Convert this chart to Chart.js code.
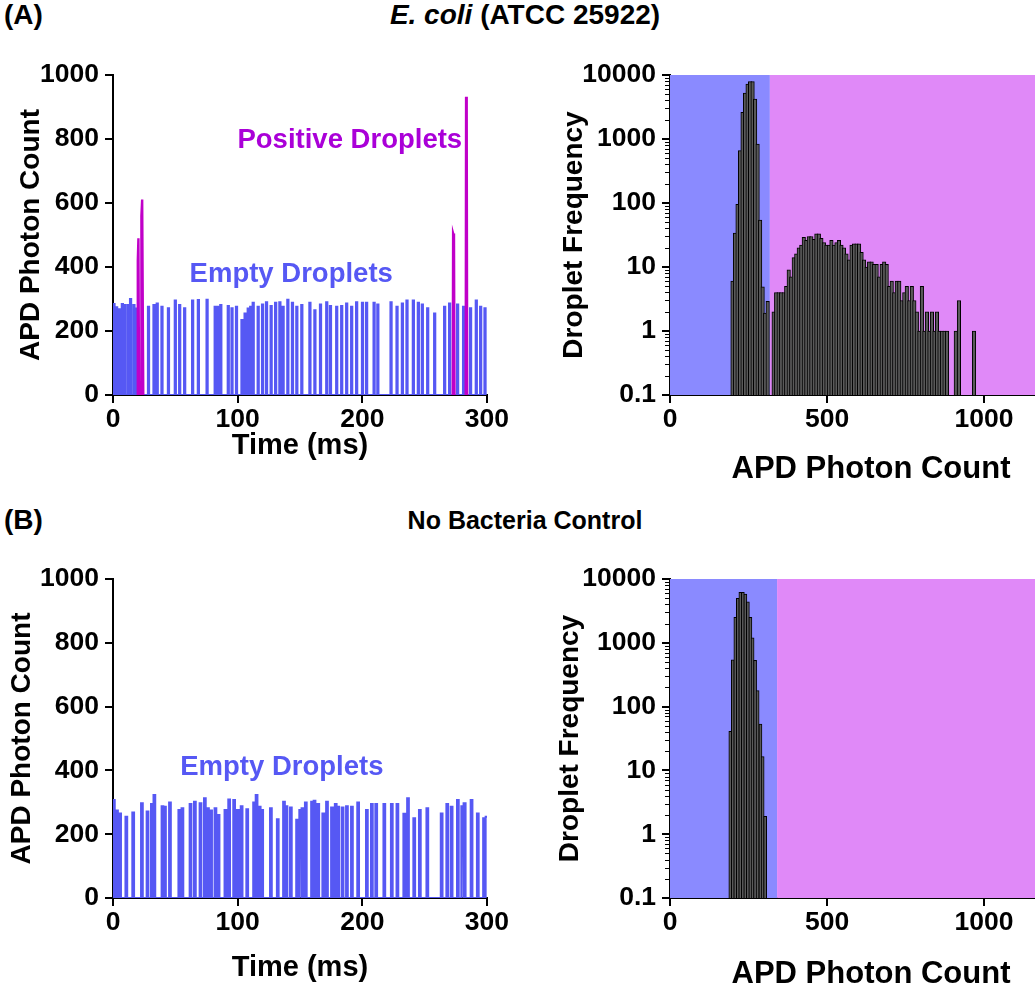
<!DOCTYPE html>
<html>
<head>
<meta charset="utf-8">
<script src="https://cdn.jsdelivr.net/npm/chart.js@4.4.0/dist/chart.umd.min.js"></script>
<style>
  html, body { margin: 0; padding: 0; background: #fff; overflow: hidden; width: 1035px; height: 987px; }
  .box { position: absolute; }
  .lbl { position: absolute; font: bold 28px "Liberation Sans", Arial, sans-serif; color: #000; white-space: nowrap; line-height: 30px; }
</style>
</head>
<body>
<div class="lbl" style="left:4px;top:0px">(A)</div>
<div class="lbl" style="left:525px;top:0px;transform:translateX(-50%)"><i>E. coli</i> (ATCC 25922)</div>
<div class="lbl" style="left:4px;top:505px">(B)</div>
<div class="lbl" style="left:525px;top:505px;transform:translateX(-50%);font-size:25px">No Bacteria Control</div>

<div class="box" style="left:0;top:50px;width:510px;height:414px"><canvas id="traceA"></canvas></div>
<div class="box" style="left:550px;top:50px;width:532px;height:438px"><canvas id="histA"></canvas></div>
<div class="box" style="left:0;top:535px;width:510px;height:451px"><canvas id="traceB"></canvas></div>
<div class="box" style="left:550px;top:535px;width:532px;height:458px"><canvas id="histB"></canvas></div>

<script>
/* Droplet traces (APD photon count vs time) and droplet histograms */

// ---- data -------------------------------------------------------------
const timeTicks = [0, 100, 200, 300];
const countTicks = [0, 200, 400, 600, 800, 1000];
const photonTicks = [0, 500, 1000];
const freqTicks = [0.1, 1, 10, 100, 1000, 10000];

// (A) E. coli - empty droplet pulses: start time (ms) and peak count
const pulseTimeA = [
  0.3, 2.4, 5, 7, 8.8, 11.5, 13.6, 16.3, 18.4, 28,
  32.4, 35, 38.8, 44, 49.5, 53, 57, 63.4, 68, 75,
  81.5, 84, 86, 92, 95, 98.6, 103, 105.5, 108, 110,
  112, 116, 119.5, 122.7, 126.4, 130, 133.4, 136, 139.8, 143.5,
  147, 151, 157.5, 161.5, 166, 171, 174, 179, 183, 187,
  191, 195, 199.7, 203, 209, 212, 222.6, 227.4, 231.7, 235.4,
  240.5, 244.5, 247.7, 252, 257.6, 265.6, 269.6, 276, 280.8, 286.4,
  291, 294.5, 298,
];
const pulsePeakA = [
  284, 274, 268, 284, 281, 281, 300, 281, 270, 276,
  281, 286, 276, 271, 295, 281, 271, 295, 297, 298,
  276, 276, 281, 278, 271, 276, 234, 255, 270, 276,
  288, 276, 283, 290, 278, 288, 290, 276, 298, 288,
  276, 281, 288, 265, 283, 290, 278, 276, 278, 286,
  276, 290, 288, 288, 288, 283, 290, 276, 286, 295,
  295, 288, 283, 271, 255, 276, 286, 283, 276, 271,
  295, 276, 271,
];
// (A) positive droplets trace points (null breaks the line)
const posTimeA = [19.6, 19.9, 20.4, 20.9, 21.5, 22.5, 22.8, 23.4, 24.3, 100, 272.6, 272.9, 273.6, 274.0, 278, 283.0, 283.3, 283.8, 284.2];
const posCountA = [0, 420, 490, 0, null, 0, 560, 611, 0, null, 0, 505, 495, 0, null, 0, 932, 890, 0];

// (B) no bacteria control - empty droplet pulses
const pulseTimeB = [
  0, 2.5, 5, 10, 15.5, 22.5, 27, 30.5, 32.5, 39,
  41, 45, 52.5, 55, 61.5, 65, 69.5, 73, 75.5, 78,
  81.5, 84, 89.5, 92.5, 96.5, 99.5, 102.5, 107, 112.5, 114.5,
  117, 119, 126, 131.5, 136.5, 138.5, 142, 147, 149.5, 151.5,
  154, 159, 161, 164, 168, 171, 175, 178, 180, 183.5,
  187, 191, 196, 203, 207, 210.5, 217, 223, 227.5, 233,
  236, 241, 245.5, 251.5, 263, 267.5, 271, 276, 279.5, 281.5,
  287, 292, 297, 299,
];
const pulsePeakB = [
  307, 274, 265, 255, 268, 297, 271, 295, 323, 288,
  286, 299, 276, 281, 295, 302, 297, 313, 281, 274,
  281, 260, 276, 309, 307, 276, 288, 278, 299, 323,
  286, 276, 281, 247, 302, 288, 284, 245, 276, 281,
  299, 302, 305, 295, 265, 302, 284, 295, 286, 284,
  288, 286, 299, 276, 295, 295, 295, 295, 295, 264,
  313, 250, 276, 281, 265, 295, 286, 307, 288, 297,
  307, 265, 250, 255,
];

// (A) histogram: bin position (APD photon count) and droplet frequency
const binA = [
  199, 207, 215, 223, 231, 239, 247, 255, 263, 271, 279, 287, 295, 303, 311,
  330, 338, 346, 354, 362, 370, 378, 386, 394, 402, 410, 418, 426, 434, 442,
  450, 458, 466, 474, 482, 490, 498, 506, 514, 522, 530, 538, 546, 554, 562,
  570, 578, 586, 594, 602, 610, 618, 626, 634, 642, 650, 658, 666, 674, 682,
  690, 698, 706, 714, 722, 730, 738, 746, 754, 762, 770, 778, 786, 794, 802,
  810, 818, 826, 834, 842, 850, 858, 866, 874, 882, 910, 920, 968,
];
const freqA = [
  6, 34, 95, 660, 2600, 5200, 7200, 7900, 7900, 4200, 830, 54, 4.9, 1.9, 2.9,
  2, 4, 4, 4, 4, 5, 9, 7, 14, 16, 20, 22, 29, 26, 30,
  30, 27, 33, 33, 28, 24, 22, 22, 26, 22, 24, 26, 22, 20, 16,
  13, 22, 23, 23, 23, 17, 13, 10, 12, 12, 11, 11, 7, 11, 12,
  11, 5, 6, 4, 6, 6, 3, 4, 5, 3, 5, 3, 2, 1, 5,
  1, 2, 1, 2, 1, 2, 1, 1, 1, 1, 1, 3, 1,
];
// (B) histogram
const binB = [192, 200, 208, 216, 224, 232, 240, 248, 256, 263, 271, 279, 288, 295, 303];
const freqB = [41, 540, 2500, 5000, 6200, 6200, 5800, 4400, 2500, 1200, 530, 178, 53, 16.5, 1.9];

// gate between empty (blue) and positive (magenta) regions
const gateA = 318;
const gateB = 341;

// approximate pulse duration (ms) of one droplet passing the detector
const pulseMsA = 1.0;
const pulseMsB = 1.4;

// ---- styling ------------------------------------------------------------
const FONT = '"Liberation Sans", Arial, Helvetica, sans-serif';
Chart.defaults.font.family = FONT;
Chart.defaults.font.weight = 'bold';
Chart.defaults.color = '#000';
Chart.defaults.animation = false;

const BLUE = '#5658F4';
const MAGENTA = '#C000C8';
const TICK_FONT = { size: 26.5, weight: 'bold' };
const YTITLE_FONT = { size: 28, weight: 'bold' };
const TIME_TITLE_FONT = { size: 29, weight: 'bold' };
const PHOTON_TITLE_FONT = { size: 31, weight: 'bold' };

function pulsesToPoints(times, peaks, len) {
  const pts = [];
  times.forEach((t, i) => {
    pts.push({ x: t, y: 0 }, { x: t, y: peaks[i] }, { x: t + len, y: peaks[i] }, { x: t + len, y: 0 });
  });
  return pts;
}

function zip(xs, ys) {
  return xs.map((x, i) => ({ x, y: ys[i] }));
}

const gateBands = {
  id: 'gateBands',
  beforeDatasetsDraw(chart, args, opts) {
    if (opts.gate === undefined) return;
    const { ctx, chartArea: a, scales: { x } } = chart;
    const g = x.getPixelForValue(opts.gate);
    ctx.save();
    ctx.fillStyle = '#8A8AFF';
    ctx.fillRect(a.left, a.top, g - a.left, a.bottom - a.top);
    ctx.fillStyle = '#E089F8';
    ctx.fillRect(g, a.top, a.right - g, a.bottom - a.top);
    ctx.restore();
  },
};

const minorTicks = {
  id: 'minorTicks',
  afterDraw(chart, args, opts) {
    if (!opts.enabled) return;
    const { ctx, chartArea: a, scales: { y } } = chart;
    ctx.save();
    ctx.strokeStyle = '#000';
    ctx.lineWidth = 1;
    for (let d = 0; d < freqTicks.length - 1; d += 1) {
      for (let k = 2; k < 10; k += 1) {
        const py = Math.round(y.getPixelForValue(freqTicks[d] * k)) + 0.5;
        ctx.beginPath();
        ctx.moveTo(a.left - 5, py);
        ctx.lineTo(a.left, py);
        ctx.stroke();
      }
    }
    ctx.restore();
  },
};

const traceLabels = {
  id: 'traceLabels',
  afterDatasetsDraw(chart, args, opts) {
    if (!opts.items) return;
    const { ctx, scales: { x, y } } = chart;
    ctx.save();
    ctx.font = `bold 27.5px ${FONT}`;
    ctx.textAlign = 'center';
    ctx.textBaseline = 'middle';
    opts.items.forEach((it) => {
      ctx.fillStyle = it.color;
      ctx.fillText(it.text, x.getPixelForValue(it.t), y.getPixelForValue(it.v));
    });
    ctx.restore();
  },
};

function axisBase(extra) {
  return Object.assign({
    z: 1,
    offset: false,
    grid: { display: true, drawOnChartArea: false, drawTicks: true, tickLength: 8, color: '#000', lineWidth: 2, offset: false },
    border: { display: true, color: '#000', width: 2 },
  }, extra);
}

const plainLabel = (v) => String(v);

function traceChart(id, datasets, cfg) {
  return new Chart(document.getElementById(id), {
    type: 'line',
    data: { datasets },
    options: {
      responsive: true,
      maintainAspectRatio: false,
      layout: { padding: { top: cfg.padTop, right: 23, left: 0, bottom: 0 } },
      plugins: { legend: { display: false }, tooltip: { enabled: false }, traceLabels: { items: cfg.labels } },
      elements: { point: { radius: 0 }, line: { tension: 0 } },
      scales: {
        x: axisBase({
          type: 'linear', min: 0, max: 300,
          afterBuildTicks: (s) => { s.ticks = timeTicks.map((v) => ({ value: v })); },
          afterFit: (s) => { s.height = cfg.xHeight; },
          ticks: { font: TICK_FONT, color: '#000', padding: 1, maxRotation: 0, callback: plainLabel },
          title: { display: true, text: 'Time (ms)', font: TIME_TITLE_FONT, color: '#000', padding: { top: 0, bottom: 1 } },
        }),
        y: axisBase({
          type: 'linear', min: 0, max: 1000,
          afterBuildTicks: (s) => { s.ticks = countTicks.map((v) => ({ value: v })); },
          afterFit: (s) => { s.width = 113; },
          ticks: { font: TICK_FONT, color: '#000', padding: 6, callback: plainLabel },
          title: { display: true, text: 'APD Photon Count', font: YTITLE_FONT, color: '#000', padding: { top: cfg.yTitlePad, bottom: 0 } },
        }),
      },
    },
    plugins: [traceLabels],
  });
}

function histChart(id, bins, freq, cfg) {
  return new Chart(document.getElementById(id), {
    type: 'bar',
    data: {
      datasets: [{
        data: zip(bins, freq),
        backgroundColor: '#5a5a5a',
        borderColor: '#000',
        borderWidth: 1,
        borderSkipped: 'start',
        barThickness: cfg.barWidth,
      }],
    },
    options: {
      responsive: true,
      maintainAspectRatio: false,
      layout: { padding: { top: cfg.padTop, right: 10, left: 0, bottom: 0 } },
      plugins: {
        legend: { display: false },
        tooltip: { enabled: false },
        gateBands: { gate: cfg.gate },
        minorTicks: { enabled: true },
      },
      scales: {
        x: axisBase({
          type: 'linear', min: 0, max: 1280,
          afterBuildTicks: (s) => { s.ticks = photonTicks.map((v) => ({ value: v })); },
          afterFit: (s) => { s.height = cfg.xHeight; },
          ticks: { font: TICK_FONT, color: '#000', padding: 1, maxRotation: 0, callback: plainLabel },
          title: { display: true, text: 'APD Photon Count', font: PHOTON_TITLE_FONT, color: '#000', padding: { top: 0, bottom: 0 } },
        }),
        y: axisBase({
          type: 'logarithmic', min: 0.1, max: 10000,
          afterBuildTicks: (s) => { s.ticks = freqTicks.map((v) => ({ value: v })); },
          afterFit: (s) => { s.width = 120; },
          ticks: { font: TICK_FONT, color: '#000', padding: 6, callback: plainLabel },
          title: { display: true, text: 'Droplet Frequency', font: YTITLE_FONT, color: '#000', padding: { top: cfg.yTitlePad, bottom: 0 } },
        }),
      },
    },
    plugins: [gateBands, minorTicks],
  });
}

// ---- charts ---------------------------------------------------------------
traceChart('traceA', [
  { data: zip(posTimeA, posCountA), borderColor: MAGENTA, borderWidth: 2.4, spanGaps: false },
  { data: pulsesToPoints(pulseTimeA, pulsePeakA, pulseMsA), borderColor: BLUE, borderWidth: 2 },
], {
  padTop: 25, xHeight: 69, yTitlePad: 14,
  labels: [
    { text: 'Positive Droplets', t: 190, v: 794, color: '#AA00D8' },
    { text: 'Empty Droplets', t: 143, v: 378, color: BLUE },
  ],
});

histChart('histA', binA, freqA, { padTop: 25, xHeight: 93, yTitlePad: 7, gate: gateA, barWidth: 3.5 });

traceChart('traceB', [
  { data: pulsesToPoints(pulseTimeB, pulsePeakB, pulseMsB), borderColor: BLUE, borderWidth: 2 },
], {
  padTop: 44, xHeight: 88, yTitlePad: 5,
  labels: [
    { text: 'Empty Droplets', t: 135.5, v: 410, color: BLUE },
  ],
});

histChart('histB', binB, freqB, { padTop: 44, xHeight: 95, yTitlePad: 3, gate: gateB, barWidth: 3 });
</script>
</body>
</html>
